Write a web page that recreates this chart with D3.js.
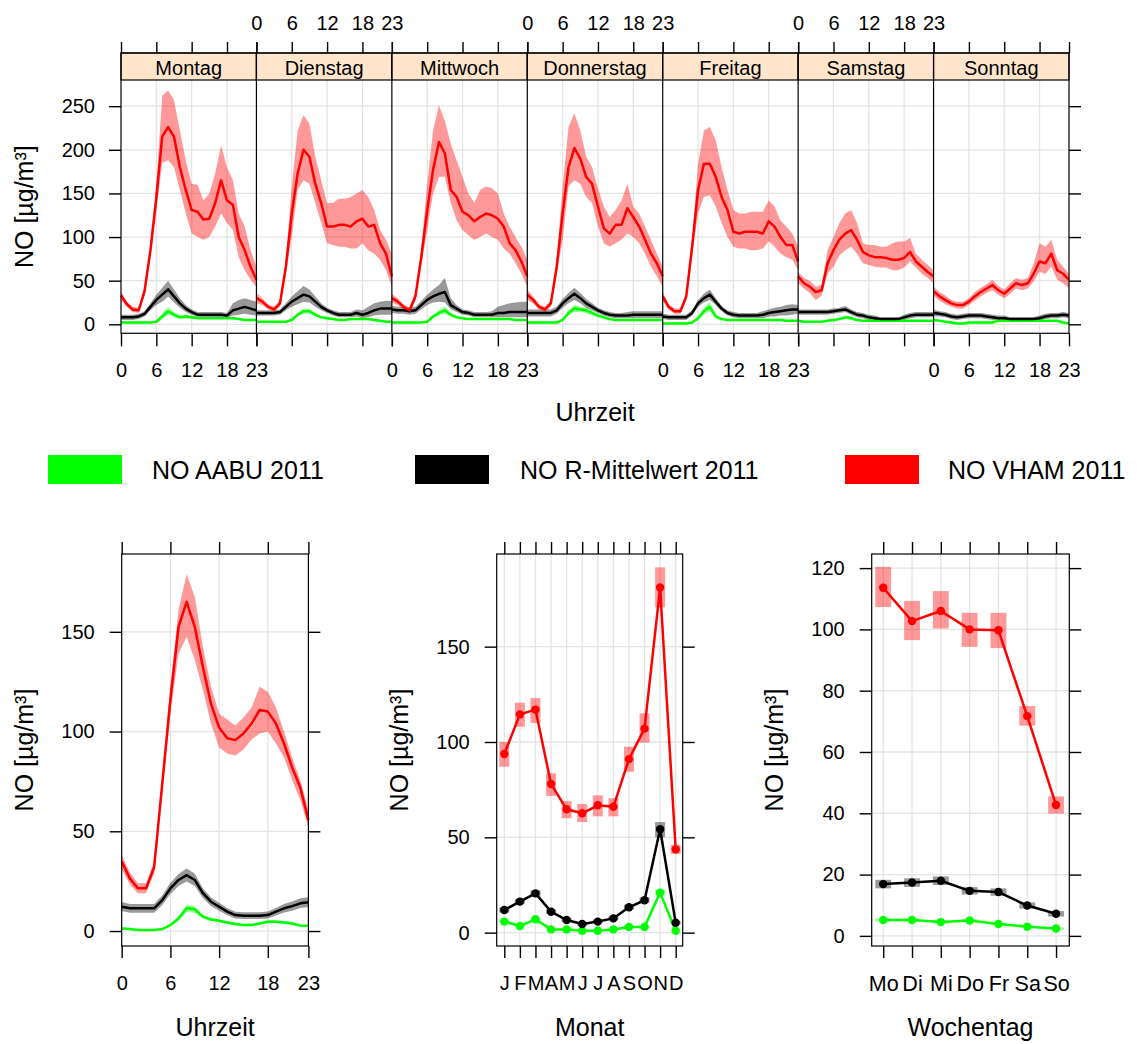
<!DOCTYPE html>
<html>
<head>
<meta charset="utf-8">
<script src="https://cdn.jsdelivr.net/npm/d3@7"></script>
<style>
  body { margin: 0; background: #fff; }
  text { font-family: "Liberation Sans", Arial, sans-serif; fill: #000; }
</style>
</head>
<body>
<script>
// ---- categories / labels ----
var days = ["Montag", "Dienstag", "Mittwoch", "Donnerstag", "Freitag", "Samstag", "Sonntag"];
var hours = [0,1,2,3,4,5,6,7,8,9,10,11,12,13,14,15,16,17,18,19,20,21,22,23];
var hourTicks = [0, 6, 12, 18, 23];
var monthLabels = ["J","F","M","A","M","J","J","A","S","O","N","D"];
var months = [1,2,3,4,5,6,7,8,9,10,11,12];
var weekdayLabels = ["Mo","Di","Mi","Do","Fr","Sa","So"];
var weekdays = [1,2,3,4,5,6,7];
var seriesNames = ["NO AABU 2011", "NO R-Mittelwert 2011", "NO VHAM 2011"];
var seriesColors = ["#00ff00", "#000000", "#ff0000"];

// ---- day x hour (top panel) ----
var aabuDayHour = [
  [2,2,2,2,2,2,3,9,15,11,8,9,8,7,7,7,7,7,7,7,6,5,5,5],
  [3,3,3,3,3,3,5,11,15,15,11,8,7,6,5,5,6,6,6,6,5,4,3,3],
  [2,2,2,2,2,2,3,9,13,16,11,8,7,6,6,6,6,6,6,6,6,5,5,5],
  [2,2,2,2,2,2,5,13,18,17,16,13,10,8,6,5,5,5,5,5,5,5,5,5],
  [1,1,1,1,1,2,7,15,20,9,6,5,5,5,5,5,5,5,5,5,5,4,4,4],
  [4,3,3,3,3,4,5,6,8,7,5,4,4,4,4,4,4,4,4,4,4,4,4,4],
  [5,4,3,2,1,1,2,2,2,2,2,4,4,4,4,4,4,4,4,4,4,4,2,1]
];
var aabuDayHourLo = [
  [1,1,1,1,1,1,2,6,11,8,6,7,6,6,6,6,6,6,6,6,5,4,4,4],
  [2,2,2,2,2,2,4,9,12,12,9,7,6,5,4,4,5,5,5,5,4,3,2,2],
  [1,1,1,1,1,1,2,7,10,12,9,7,6,5,5,5,5,5,5,5,5,4,4,4],
  [1,1,1,1,1,1,4,10,14,14,13,10,8,6,5,4,4,4,4,4,4,4,4,4],
  [0,0,0,0,0,1,5,11,15,7,5,4,4,4,4,4,4,4,4,4,4,3,3,3],
  [3,2,2,2,2,3,4,5,6,5,4,3,3,3,3,3,3,3,3,3,3,3,3,3],
  [4,3,2,1,0,0,1,1,1,1,1,3,3,3,3,3,3,3,3,3,3,3,1,0]
];
var aabuDayHourHi = [
  [3,3,3,3,3,3,4,12,20,14,10,11,10,8,8,8,8,8,8,8,7,6,6,6],
  [4,4,4,4,4,4,6,13,18,18,13,9,8,7,6,6,7,7,7,7,6,5,4,4],
  [3,3,3,3,3,3,4,11,16,21,13,9,8,7,7,7,7,7,7,7,7,6,6,6],
  [3,3,3,3,3,3,6,16,22,20,19,16,12,10,7,6,6,6,6,6,6,6,6,6],
  [2,2,2,2,2,3,9,19,26,11,7,6,6,6,6,6,6,6,6,6,6,5,5,5],
  [5,4,4,4,4,5,6,7,10,9,6,5,5,5,5,5,5,5,5,5,5,5,5,5],
  [6,5,4,3,2,2,3,3,3,3,3,5,5,5,5,5,5,5,5,5,5,5,3,2]
];

var rmwDayHour = [
  [8,8,8,9,12,20,28,34,40,32,24,18,14,11,11,11,11,11,10,16,18,20,18,16],
  [13,13,13,13,14,20,26,30,34,32,26,20,16,13,11,11,11,13,11,13,16,18,18,18],
  [17,16,16,15,16,22,28,32,35,37,22,18,14,13,11,11,11,11,13,13,14,14,14,14],
  [13,13,13,13,13,16,24,30,35,30,24,20,16,13,11,10,10,10,11,11,11,11,11,11],
  [9,8,8,8,8,13,24,30,34,26,18,13,11,10,10,10,10,11,13,14,15,16,17,17],
  [14,14,14,14,14,14,15,16,17,14,11,10,8,7,6,6,6,6,8,10,11,11,11,11],
  [13,12,11,9,8,9,10,10,10,9,8,7,7,6,6,6,6,6,7,9,10,10,11,10]
];
var rmwDayHourLo = [
  [5,5,5,6,9,16,22,26,32,25,19,14,11,8,8,8,8,8,7,10,11,12,11,10],
  [10,10,10,10,11,16,20,23,26,25,20,16,13,10,8,8,8,9,7,8,10,11,11,11],
  [13,12,12,11,12,17,22,25,26,25,17,14,11,10,8,8,8,8,8,8,8,8,8,8],
  [9,9,9,9,9,12,19,24,28,24,19,16,13,10,8,7,7,7,7,7,7,7,7,7],
  [6,5,5,5,5,10,20,25,28,22,15,10,8,7,7,7,7,7,9,9,10,10,11,12],
  [11,11,11,11,11,11,12,13,14,11,8,7,5,4,4,4,4,4,5,7,8,8,8,8],
  [9,9,8,6,5,6,7,7,7,6,5,4,4,4,4,4,4,4,4,6,7,7,8,7]
];
var rmwDayHourHi = [
  [11,11,11,12,15,24,34,42,50,40,30,22,17,14,14,14,14,14,13,24,28,30,28,26],
  [16,16,16,16,17,24,32,38,44,40,32,24,19,16,14,14,14,17,16,20,24,26,27,27],
  [21,20,20,19,20,27,34,40,45,53,30,22,17,16,14,14,14,15,20,22,24,25,26,26],
  [17,17,17,17,17,20,29,36,42,36,29,24,19,16,14,13,13,14,15,15,15,15,15,15],
  [12,11,11,11,11,16,28,35,40,30,21,16,14,13,13,13,13,15,17,19,20,22,23,22],
  [17,17,17,17,17,17,18,19,21,17,14,13,11,10,8,8,8,8,11,13,14,14,14,14],
  [17,15,14,12,11,12,13,13,13,12,11,10,10,8,8,8,8,8,10,12,13,13,14,13]
];

var vhamDayHour = [
  [33,23,17,16,38,85,145,215,226,215,180,154,131,129,120,121,139,165,142,137,100,85,66,51],
  [30,26,20,17,24,66,127,173,200,192,161,139,112,112,114,114,112,118,121,112,114,93,81,55],
  [30,26,20,16,32,77,131,177,209,196,154,146,129,125,118,123,127,125,121,112,93,85,72,55],
  [34,28,20,17,24,66,127,180,202,190,169,161,135,110,104,114,114,133,123,112,97,81,70,55],
  [32,20,15,15,32,89,154,184,184,169,146,131,106,104,106,106,106,104,118,112,100,91,91,72],
  [55,47,43,37,39,70,85,97,104,108,97,83,79,77,77,76,74,74,76,83,72,66,60,55],
  [38,32,28,24,22,22,26,32,37,41,45,39,35,41,47,45,47,58,72,70,81,62,58,51]
];
var vhamDayHourLo = [
  [28,20,14,13,33,77,130,185,188,180,154,127,104,100,97,100,112,127,116,108,77,62,51,43],
  [24,22,17,14,20,58,100,154,165,161,139,116,93,91,89,89,87,87,93,85,81,74,62,43],
  [25,22,17,13,27,68,108,150,169,169,139,119,108,102,97,100,104,100,97,87,81,70,58,43],
  [28,24,17,14,20,58,97,158,165,161,146,139,112,93,89,93,97,104,100,93,81,66,55,43],
  [27,17,12,12,27,80,127,146,148,135,116,100,89,87,87,85,85,87,95,89,81,77,74,62],
  [47,41,36,28,33,58,66,79,85,89,81,70,68,66,65,65,62,62,65,72,65,58,53,47],
  [33,27,23,20,18,18,22,27,32,36,39,34,30,35,41,39,41,49,60,58,66,51,47,41]
];
var vhamDayHourHi = [
  [38,26,20,19,43,93,160,262,268,257,222,188,161,160,142,150,173,205,180,165,127,112,85,66],
  [36,30,23,20,28,74,158,222,240,230,192,165,139,139,144,144,146,150,154,146,131,108,97,81],
  [35,30,23,19,37,86,161,222,251,233,207,188,169,150,139,154,158,156,150,127,112,100,89,74],
  [40,32,23,20,28,74,158,226,242,222,192,180,156,135,123,131,142,161,135,127,112,97,81,66],
  [37,23,18,18,37,98,184,222,226,211,180,154,131,127,127,129,129,129,142,135,119,112,104,89],
  [60,53,50,43,45,85,100,116,127,131,116,93,91,91,89,89,93,95,95,99,81,74,68,62],
  [43,37,33,28,26,26,30,37,42,46,51,44,40,47,53,51,53,70,93,89,97,74,66,58]
];

// ---- hour of day ----
var aabuHour   = [1.3,1,0.5,0.5,0.5,1,3,6.3,11.4,10.9,7.2,5.8,5.2,4.3,3.5,3,3,3.8,4.7,4.7,4.3,3.8,2.7,2.7];
var aabuHourLo = [0.8,0.5,0,0,0,0.5,2.3,5.2,9.6,9.2,6.3,5,4.5,3.7,2.9,2.4,2.4,3.1,4,4,3.6,3.1,2.1,2.1];
var aabuHourHi = [1.8,1.5,1,1,1,1.5,3.7,7.4,13.2,12.6,8.1,6.6,5.9,4.9,4.1,3.6,3.6,4.5,5.4,5.4,5,4.5,3.3,3.3];
var rmwHour    = [12.2,11.4,11.4,11.4,11.4,15.5,21.4,25.6,28,25.6,19,14.7,12.2,9.7,8,7.7,7.7,7.7,8,9.7,11.4,12.5,13.9,14.4];
var rmwHourLo  = [10,9.2,9.2,9.2,9.2,13,18.6,22.6,24.8,22.6,16.6,12.6,10.2,7.9,6.3,6,6,6,6.3,7.8,9.3,10.2,11.5,12];
var rmwHourHi  = [14.6,13.6,13.6,13.6,13.6,18,24.2,28.6,31.4,28.8,21.4,16.8,14.2,11.5,9.7,9.4,9.4,9.4,9.8,11.6,13.5,14.8,16.4,17];
var vhamHour   = [34.8,26.4,21.4,21.4,32,74,116,152.5,165,152.5,132.5,114,102,96.6,95.7,99,104,110.8,110,104,94,82,72,55.6];
var vhamHourLo = [31,23.5,19,19,29,70,109,139,147.5,136,121,104,92,89,88,91,96,99,100,94,87,75.7,65.7,52];
var vhamHourHi = [38,29.5,24,24,35,78,123,161,179,167.6,142.5,122.5,109,106,103,107,112,122.5,120,112,100,87,75.7,60.6];

// ---- month ----
var aabuMonth   = [5.8,3.5,7,1.7,1.7,1,1,1.7,3,3,21,1];
var aabuMonthLo = [5.2,3,6.3,1.2,1.2,0.6,0.6,1.2,2.5,2.4,19.5,0.6];
var aabuMonthHi = [6.4,4,7.7,2.2,2.2,1.4,1.4,2.2,3.5,3.6,22.5,1.4];
var rmwMonth    = [11.9,16.3,20.6,11,6.6,4.5,5.8,7.5,13.3,17,54.2,5.2];
var rmwMonthLo  = [10.5,15,19,9.8,5.6,3.6,4.8,6.5,12,15.5,50,4.4];
var rmwMonthHi  = [13.3,17.6,22.2,12.2,7.6,5.4,6.8,8.5,14.6,18.5,58,6];
var vhamMonth   = [93.7,114.5,117,78,64.7,62.6,66.8,66,91,107,181,43.7];
var vhamMonthLo = [87,108,110,71.7,60,58,61,61,84.4,99.7,170.6,41.3];
var vhamMonthHi = [100,120.6,123,83.6,69,67.5,72,70.5,97.5,115,191.6,46];

// ---- weekday ----
var aabuWday   = [5.2,5.2,4.5,5,3.9,3,2.4];
var aabuWdayLo = [4.7,4.7,4,4.5,3.5,2.6,2];
var aabuWdayHi = [5.7,5.7,5,5.5,4.3,3.4,2.8];
var rmwWday    = [16.9,17.4,18,14.7,14.3,9.9,7.2];
var rmwWdayLo  = [15.5,16,16.6,13.5,13.1,8.9,6.3];
var rmwWdayHi  = [18.3,18.8,19.4,15.9,15.5,10.9,8.1];
var vhamWday   = [113.6,102.7,106,100,99.7,71.7,42.7];
var vhamWdayLo = [107.3,96.5,100.3,94.3,93.9,68.6,39.9];
var vhamWdayHi = [120.4,109.3,112.5,105.4,105.4,75,45.5];

var series = [
  { color: seriesColors[0], dh: aabuDayHour, dhLo: aabuDayHourLo, dhHi: aabuDayHourHi,
    h: aabuHour, hLo: aabuHourLo, hHi: aabuHourHi, m: aabuMonth, mLo: aabuMonthLo, mHi: aabuMonthHi,
    w: aabuWday, wLo: aabuWdayLo, wHi: aabuWdayHi },
  { color: seriesColors[1], dh: rmwDayHour, dhLo: rmwDayHourLo, dhHi: rmwDayHourHi,
    h: rmwHour, hLo: rmwHourLo, hHi: rmwHourHi, m: rmwMonth, mLo: rmwMonthLo, mHi: rmwMonthHi,
    w: rmwWday, wLo: rmwWdayLo, wHi: rmwWdayHi },
  { color: seriesColors[2], dh: vhamDayHour, dhLo: vhamDayHourLo, dhHi: vhamDayHourHi,
    h: vhamHour, hLo: vhamHourLo, hHi: vhamHourHi, m: vhamMonth, mLo: vhamMonthLo, mHi: vhamMonthHi,
    w: vhamWday, wLo: vhamWdayLo, wHi: vhamWdayHi }
];

var W = 1137, H = 1044;
var FONT = "Liberation Sans, Arial, sans-serif";
var GRID = "#e4e4e4";
var LW = 2.5;
var yLabel = "NO [µg/m³]";

var svg = d3.select("body").append("svg").attr("width", W).attr("height", H);
svg.append("rect").attr("width", W).attr("height", H).attr("fill", "#fff");

function styleAxis(g, fs) {
  g.attr("font-family", FONT).attr("font-size", fs);
  g.select(".domain").remove();
  g.selectAll("line").attr("stroke", "#000").attr("stroke-width", 1.4);
  g.selectAll("text").attr("fill", "#000");
}

function yTitle(x, y) {
  svg.append("text").attr("transform", "translate(" + x + "," + y + ") rotate(-90)")
    .attr("text-anchor", "middle").attr("dominant-baseline", "central")
    .attr("font-size", 25).text(yLabel);
}

function xTitle(x, y, t) {
  svg.append("text").attr("x", x).attr("y", y).attr("text-anchor", "middle")
    .attr("dominant-baseline", "central").attr("font-size", 25).text(t);
}

// ================= top panel: day x hour =================
var T = { x0: 121, x1: 1069, y0: 80, y1: 333.3, s0: 53 };
var yTop = d3.scaleLinear().domain([-10.3, 280]).range([T.y1, T.y0]);
var yTicksTop = [0, 50, 100, 150, 200, 250];
var dayW = (T.x1 - T.x0) / days.length;
var dayX = days.map(function(d, i) {
  return d3.scaleLinear().domain([0, 23]).range([T.x0 + i * dayW, T.x0 + (i + 1) * dayW]);
});

var gTop = svg.append("g");
// grid
gTop.selectAll(".hg").data(yTicksTop).enter().append("line")
  .attr("x1", T.x0).attr("x2", T.x1)
  .attr("y1", function(d) { return yTop(d); }).attr("y2", function(d) { return yTop(d); })
  .attr("stroke", GRID).attr("stroke-width", 1.3);
dayX.forEach(function(x) {
  gTop.selectAll(null).data([6, 12, 18]).enter().append("line")
    .attr("x1", function(d) { return x(d); }).attr("x2", function(d) { return x(d); })
    .attr("y1", T.y0).attr("y2", T.y1)
    .attr("stroke", GRID).attr("stroke-width", 1.3);
});

// bands then lines
series.forEach(function(s) {
  dayX.forEach(function(x, i) {
    var area = d3.area().x(function(h) { return x(h); })
      .y0(function(h) { return yTop(s.dhLo[i][h]); })
      .y1(function(h) { return yTop(s.dhHi[i][h]); });
    gTop.append("path").attr("d", area(hours)).attr("fill", s.color).attr("fill-opacity", 0.4);
  });
});
series.forEach(function(s) {
  dayX.forEach(function(x, i) {
    var line = d3.line().x(function(h) { return x(h); }).y(function(h) { return yTop(s.dh[i][h]); });
    gTop.append("path").attr("d", line(hours)).attr("fill", "none")
      .attr("stroke", s.color).attr("stroke-width", LW).attr("stroke-linejoin", "round");
  });
});

// strips
dayX.forEach(function(x, i) {
  gTop.append("rect").attr("x", x.range()[0]).attr("y", T.s0)
    .attr("width", dayW).attr("height", T.y0 - T.s0)
    .attr("fill", "#ffe5cc").attr("stroke", "#000").attr("stroke-width", 1.2);
  gTop.append("text").attr("x", (x.range()[0] + x.range()[1]) / 2).attr("y", (T.s0 + T.y0) / 2 + 1)
    .attr("text-anchor", "middle").attr("dominant-baseline", "central")
    .attr("font-size", 20).text(days[i]);
});
// borders
gTop.append("rect").attr("x", T.x0).attr("y", T.s0).attr("width", T.x1 - T.x0).attr("height", T.y1 - T.s0)
  .attr("fill", "none").attr("stroke", "#000").attr("stroke-width", 1.2);
dayX.forEach(function(x, i) {
  if (i === 0) return;
  gTop.append("line").attr("x1", x.range()[0]).attr("x2", x.range()[0])
    .attr("y1", T.s0).attr("y2", T.y1).attr("stroke", "#000").attr("stroke-width", 1.2);
});

// axes
dayX.forEach(function(x, i) {
  var gb = svg.append("g").attr("transform", "translate(0," + T.y1 + ")")
    .call(d3.axisBottom(x).tickValues(hourTicks).tickSize(13).tickPadding(17)
      .tickFormat(function(d) { return i % 2 === 0 ? d : ""; }));
  styleAxis(gb, 20);
  var gt = svg.append("g").attr("transform", "translate(0," + T.s0 + ")")
    .call(d3.axisTop(x).tickValues(hourTicks).tickSize(11).tickPadding(12)
      .tickFormat(function(d) { return i % 2 === 1 ? d : ""; }));
  styleAxis(gt, 20);
});
var gl = svg.append("g").attr("transform", "translate(" + T.x0 + ",0)")
  .call(d3.axisLeft(yTop).tickValues(yTicksTop).tickSize(12).tickPadding(14));
styleAxis(gl, 20);
var gr = svg.append("g").attr("transform", "translate(" + T.x1 + ",0)")
  .call(d3.axisRight(yTop).tickValues(yTicksTop).tickSize(12).tickFormat(""));
styleAxis(gr, 20);

yTitle(24, (T.y0 + T.y1) / 2);
xTitle((T.x0 + T.x1) / 2, 412, "Uhrzeit");

// ================= legend =================
var legX = [48, 415, 845], legTX = [152, 520, 948];
seriesNames.forEach(function(n, i) {
  svg.append("rect").attr("x", legX[i]).attr("y", 455).attr("width", 74).attr("height", 29)
    .attr("fill", seriesColors[i]);
  svg.append("text").attr("x", legTX[i]).attr("y", 470).attr("dominant-baseline", "central")
    .attr("font-size", 25).text(n);
});

// ================= bottom panels =================
var B = { y0: 554, y1: 946 };

function bottomPanel(o) {
  var g = svg.append("g");
  var x = o.x, y = o.y;
  var x0 = x.range()[0], x1 = x.range()[1];
  g.selectAll(null).data(o.yTicks).enter().append("line")
    .attr("x1", x0).attr("x2", x1)
    .attr("y1", function(d) { return y(d); }).attr("y2", function(d) { return y(d); })
    .attr("stroke", GRID).attr("stroke-width", 1.3);
  g.selectAll(null).data(o.xGrid).enter().append("line")
    .attr("x1", function(d) { return x(d); }).attr("x2", function(d) { return x(d); })
    .attr("y1", B.y0).attr("y2", B.y1)
    .attr("stroke", GRID).attr("stroke-width", 1.3);

  o.draw(g, x, y);

  g.append("rect").attr("x", x0).attr("y", B.y0).attr("width", x1 - x0).attr("height", B.y1 - B.y0)
    .attr("fill", "none").attr("stroke", "#000").attr("stroke-width", 1.2);

  var ab = svg.append("g").attr("transform", "translate(0," + B.y1 + ")")
    .call(d3.axisBottom(x).tickValues(o.xTicks).tickSize(12).tickPadding(18).tickFormat(o.xFmt));
  styleAxis(ab, o.xFont || 20);
  var at = svg.append("g").attr("transform", "translate(0," + B.y0 + ")")
    .call(d3.axisTop(x).tickValues(o.xTicks).tickSize(12).tickFormat(""));
  styleAxis(at, 20);
  var al = svg.append("g").attr("transform", "translate(" + x0 + ",0)")
    .call(d3.axisLeft(y).tickValues(o.yTicks).tickSize(12).tickPadding(15));
  styleAxis(al, 20);
  var ar = svg.append("g").attr("transform", "translate(" + x1 + ",0)")
    .call(d3.axisRight(y).tickValues(o.yTicks).tickSize(12).tickFormat(""));
  styleAxis(ar, 20);

  yTitle(o.yTitleX, (B.y0 + B.y1) / 2);
  xTitle((x0 + x1) / 2, 1027, o.title);
}

// hour of day
bottomPanel({
  x: d3.scaleLinear().domain([0, 23]).range([121.7, 308.4]),
  y: d3.scaleLinear().domain([-7.5, 189]).range([B.y1, B.y0]),
  xTicks: hourTicks, xGrid: [6, 12, 18], yTicks: [0, 50, 100, 150],
  xFmt: function(d) { return d; }, yTitleX: 24, title: "Uhrzeit",
  draw: function(g, x, y) {
    series.forEach(function(s) {
      var area = d3.area().x(function(h) { return x(h); })
        .y0(function(h) { return y(s.hLo[h]); }).y1(function(h) { return y(s.hHi[h]); });
      g.append("path").attr("d", area(hours)).attr("fill", s.color).attr("fill-opacity", 0.4);
    });
    series.forEach(function(s) {
      var line = d3.line().x(function(h) { return x(h); }).y(function(h) { return y(s.h[h]); });
      g.append("path").attr("d", line(hours)).attr("fill", "none")
        .attr("stroke", s.color).attr("stroke-width", LW).attr("stroke-linejoin", "round");
    });
  }
});

function pointDraw(key, cats, bw) {
  return function(g, x, y) {
    var step = x(2) - x(1);
    series.forEach(function(s) {
      g.selectAll(null).data(cats).enter().append("rect")
        .attr("x", function(c) { return x(c) - bw * step / 2; })
        .attr("width", bw * step)
        .attr("y", function(c, i) { return y(s[key + "Hi"][i]); })
        .attr("height", function(c, i) { return y(s[key + "Lo"][i]) - y(s[key + "Hi"][i]); })
        .attr("fill", s.color).attr("fill-opacity", 0.4);
    });
    series.forEach(function(s) {
      var line = d3.line().x(function(c) { return x(c); }).y(function(c, i) { return y(s[key][i]); });
      g.append("path").attr("d", line(cats)).attr("fill", "none")
        .attr("stroke", s.color).attr("stroke-width", LW).attr("stroke-linejoin", "round");
      g.selectAll(null).data(cats).enter().append("circle")
        .attr("cx", function(c) { return x(c); })
        .attr("cy", function(c, i) { return y(s[key][i]); })
        .attr("r", 4.2).attr("fill", s.color);
    });
  };
}

// month
bottomPanel({
  x: d3.scaleLinear().domain([0.512, 12.45]).range([496.7, 682.7]),
  y: d3.scaleLinear().domain([-7, 198.6]).range([B.y1, B.y0]),
  xTicks: months, xGrid: months, yTicks: [0, 50, 100, 150],
  xFmt: function(d, i) { return monthLabels[i]; }, yTitleX: 399, title: "Monat",
  draw: pointDraw("m", months, 0.64)
});

// weekday
bottomPanel({
  x: d3.scaleLinear().domain([0.6, 7.46]).range([871.7, 1069.3]),
  y: d3.scaleLinear().domain([-3.3, 124.6]).range([B.y1, B.y0]),
  xTicks: weekdays, xGrid: weekdays, yTicks: [0, 20, 40, 60, 80, 100, 120],
  xFmt: function(d, i) { return weekdayLabels[i]; }, xFont: 21.5, yTitleX: 774, title: "Wochentag",
  draw: pointDraw("w", weekdays, 0.55)
});
</script>
</body>
</html>
